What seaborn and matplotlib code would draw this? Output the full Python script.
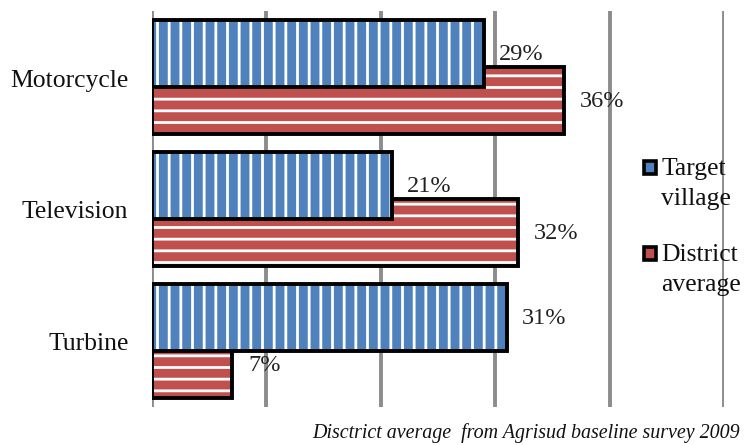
import matplotlib
matplotlib.use("Agg")
import matplotlib.pyplot as plt
import seaborn as sns
import pandas as pd
import numpy as np
from matplotlib.patches import Rectangle

categories = ["Motorcycle", "Television", "Turbine"]
target_village = [29, 21, 31]
district_average = [36, 32, 7]
series_names = ["Target\nvillage", "District\naverage"]
footnote = "Disctrict average  from Agrisud baseline survey 2009"

DPI = 140
S = 100 / DPI  # sizes below are calibrated for 100 dpi

sns.set_theme(style="white")
plt.rcParams['font.family'] = ['Liberation Serif', 'DejaVu Serif']
plt.rcParams['hatch.linewidth'] = 2.0 * S
plt.rcParams['hatch.color'] = 'white'

BLUE = "#4f81bd"
RED = "#c0504d"
GRID = "#8c8c8c"
colors = [BLUE, RED]

W, H = 748, 446
fig = plt.figure(figsize=(W / DPI, H / DPI), dpi=DPI)
ax = fig.add_axes([152/W, 38/H, (724-152)/W, (408-12)/H])

bar_h = 0.51
off = 0.18

df_t = pd.DataFrame({"cat": categories, "val": target_village})
df_d = pd.DataFrame({"cat": categories, "val": district_average})

def draw(df, color, hatch, shift, z):
    n0 = len(ax.patches)
    sns.barplot(data=df, x="val", y="cat", orient="h", width=bar_h,
                color=color, saturation=1, ax=ax, zorder=z)
    new = ax.patches[n0:]
    for p in new:
        p.set_y(p.get_y() + shift)
        p.set_facecolor(color)
        p.set_edgecolor('white')
        p.set_hatch(hatch)
        p.set_linewidth(0)
        p.set_zorder(z)
        ob = plt.Rectangle((p.get_x(), p.get_y()), p.get_width(), p.get_height(),
                           fill=False, edgecolor='black', linewidth=2.8 * S, zorder=z + 0.1)
        ax.add_patch(ob)
    return new

red_bars = draw(df_d, RED, '--', off, 3)
blue_bars = draw(df_t, BLUE, '||', -off, 4)

for p, v in zip(blue_bars, target_village):
    ax.text(p.get_width() + 1.3, p.get_y() + p.get_height() / 2, f"{v}%",
            va='center', ha='left', fontsize=17.5 * S, color='#222222', zorder=6)
for p, v in zip(red_bars, district_average):
    ax.text(p.get_width() + 1.4, p.get_y() + p.get_height() / 2, f"{v}%",
            va='center', ha='left', fontsize=17.5 * S, color='#222222', zorder=6)

ax.set_xlim(0, 50)
ax.set_ylim(2.5, -0.5)
ax.set_xticks([0, 10, 20, 30, 40, 50])
ax.set_xticklabels([])
ax.xaxis.grid(True, color=GRID, linewidth=2.8 * S)
ax.set_axisbelow(True)
ax.tick_params(axis='both', length=0)
ax.tick_params(axis='y', labelsize=18.5 * S, pad=17 * S, colors='#111111')
ax.set_xlabel("")
ax.set_ylabel("")
for s in ax.spines.values():
    s.set_visible(False)

# legend (manual, so the swatch sits beside the first text line)
leg_tops = [162, 248]
for name, col, top in zip(series_names, colors, leg_tops):
    fig.patches.append(Rectangle((644/W, 1 - (top + 13)/H), 12/W, 13/H,
                                 transform=fig.transFigure, facecolor=col,
                                 edgecolor='black', linewidth=2.6 * S, zorder=7))
    l1, l2 = name.split("\n")
    fig.text(661/W, 1 - (top + 13)/H, l1, ha='left', va='baseline',
             fontsize=18.5 * S, color='#111111', zorder=8)
    fig.text(661/W, 1 - (top + 43)/H, l2, ha='left', va='baseline',
             fontsize=18.5 * S, color='#111111', zorder=8)

fig.text(740/W, 1 - 433/H, footnote, ha='right', va='center', style='italic',
         fontsize=14.4 * S, color='#111111')

fig.savefig("out.png", dpi=DPI)
